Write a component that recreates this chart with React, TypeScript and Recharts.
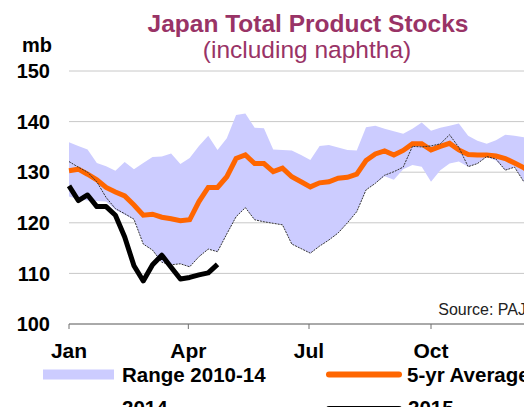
import {
  Area,
  CartesianGrid,
  ComposedChart,
  Line,
  XAxis,
  YAxis,
} from "recharts";

// weekly points, x is day of year (week * 7)
const MONTH_TICKS = [0, 90, 181, 273];
const MONTH_LABELS = ["Jan", "Apr", "Jul", "Oct"];
const Y_TICKS = [100, 110, 120, 130, 140, 150];

const RANGE_HIGH = [
  135.9, 135.2, 134.5, 131.8, 131.2, 130.3, 132.0, 130.6, 131.8, 133.0,
  133.1, 133.7, 131.6, 132.8, 135.2, 137.2, 134.4, 136.7, 141.3, 141.6,
  138.8, 138.7, 134.5, 134.4, 134.3, 133.4, 132.4, 135.2, 135.4, 134.9,
  134.4, 134.3, 138.9, 139.2, 138.6, 138.1, 137.6, 138.6, 139.8, 138.2,
  138.8, 139.2, 139.6, 137.2, 136.2, 135.6, 136.3, 137.4, 137.2, 136.9,
  136.0, 135.3,
];

const RANGE_LOW = [
  125.2, 124.7, 124.4, 124.3, 124.2, 122.6, 121.6, 120.7, 115.8, 114.6,
  112.2, 111.7, 111.9, 111.3, 113.3, 114.8, 114.3, 117.8, 121.2, 123.0,
  120.6, 120.2, 119.9, 119.6, 115.8, 114.9, 114.0, 115.4, 116.6, 118.0,
  120.0, 122.2, 126.5, 127.8, 129.2, 128.5, 130.6, 131.4, 131.1, 128.1,
  130.4, 131.7, 132.1, 131.1, 131.7, 133.0, 132.3, 130.4, 131.0, 128.1,
  126.1, 124.5,
];

const AVG_5YR = [
  130.3, 130.6, 129.6, 128.5, 127.0, 126.1, 125.3, 123.5, 121.5, 121.7,
  121.1, 120.8, 120.4, 120.6, 124.2, 127.0, 127.0, 129.1, 132.7, 133.4,
  131.7, 131.7, 130.1, 130.8, 129.1, 128.1, 127.1, 127.9, 128.1, 128.8,
  129.0, 129.6, 132.3, 133.6, 134.2, 133.4, 134.3, 135.6, 135.6, 134.4,
  135.1, 135.7, 134.4, 133.5, 133.4, 133.4, 133.2, 132.7, 131.8, 130.9,
  129.4, 128.0,
];

const Y2014 = [
  132.1, 131.0, 130.0, 128.1, 125.0, 122.8, 121.8, 120.7, 115.8, 114.6,
  112.2, 111.7, 111.9, 111.3, 113.3, 114.8, 114.3, 117.8, 121.2, 123.0,
  120.6, 120.2, 119.9, 119.6, 115.8, 114.9, 114.0, 115.4, 116.6, 118.0,
  120.0, 122.2, 126.5, 127.8, 129.4, 130.1, 131.0, 135.1, 135.0, 135.2,
  135.6, 137.4, 134.9, 131.1, 131.7, 133.1, 132.6, 130.4, 131.0, 128.1,
  126.1, 124.5,
];

const Y2015 = [
  127.3, 124.4, 125.5, 123.2, 123.2, 121.5, 117.2, 111.5, 108.5, 111.7,
  113.6, 111.2, 108.9, 109.2, 109.7, 110.1, 111.8,
];

const data = RANGE_HIGH.map((hi, i) => ({
  day: i * 7,
  range: [RANGE_LOW[i], hi],
  avg: AVG_5YR[i],
  y2014: Y2014[i],
  y2015: i < Y2015.length ? Y2015[i] : null,
}));

const FONT = '"Liberation Sans", Arial, sans-serif';
const TITLE_COLOR = "#993366";

export default function App() {
  return (
    <div
      style={{
        position: "relative",
        width: 532,
        height: 415,
        margin: -8,
        overflow: "hidden",
        background: "#fff",
        fontFamily: FONT,
      }}
    >
      <ComposedChart
        width={580}
        height={415}
        data={data}
        margin={{ top: 71, right: 27, bottom: 51, left: 0 }}
      >
        <CartesianGrid vertical={false} stroke="#c8c8c8" />
        <XAxis
          type="number"
          dataKey="day"
          domain={[0, 365]}
          ticks={MONTH_TICKS}
          interval={0}
          tickFormatter={(v) => MONTH_LABELS[MONTH_TICKS.indexOf(v)] ?? ""}
          stroke="#707070"
          tickSize={5}
          tickMargin={14}
          height={40}
          tick={{ fill: "#000", fontSize: 21, fontWeight: 700, fontFamily: FONT }}
        />
        <YAxis
          domain={[100, 150]}
          ticks={Y_TICKS}
          interval={0}
          width={69}
          axisLine={false}
          tickLine={false}
          tickSize={0}
          tickMargin={19}
          tick={{ fill: "#000", fontSize: 20, fontWeight: 700, fontFamily: FONT }}
        />
        <Area
          type="linear"
          dataKey="range"
          stroke="none"
          fill="#ccccff"
          fillOpacity={1}
          isAnimationActive={false}
        />
        <Line
          type="linear"
          dataKey="avg"
          stroke="#ff6600"
          strokeWidth={5}
          dot={false}
          isAnimationActive={false}
        />
        <Line
          type="linear"
          dataKey="y2014"
          stroke="#333"
          strokeWidth={1}
          strokeDasharray="2 1"
          dot={false}
          isAnimationActive={false}
        />
        <Line
          type="linear"
          dataKey="y2015"
          stroke="#000"
          strokeWidth={5}
          strokeLinejoin="round"
          dot={false}
          isAnimationActive={false}
        />
      </ComposedChart>

      <svg
        width={532}
        height={415}
        style={{ position: "absolute", left: 0, top: 0, pointerEvents: "none" }}
        fontFamily={FONT}
      >
        <text x={308} y={32} textAnchor="middle" fontSize={24.5} fontWeight={700} fill={TITLE_COLOR}>
          Japan Total Product Stocks
        </text>
        <text x={307} y={57.5} textAnchor="middle" fontSize={24.5} fill={TITLE_COLOR}>
          (including naphtha)
        </text>
        <text x={52} y={52} textAnchor="end" fontSize={20} fontWeight={700} fill="#000">
          mb
        </text>
        <text x={526} y={315} textAnchor="end" fontSize={16} fill="#222">
          Source: PAJ
        </text>

        <rect x={43} y={369.5} width={71} height={10} fill="#ccccff" />
        <text x={122} y={382} fontSize={20.5} fontWeight={700} fill="#000">
          Range 2010-14
        </text>
        <line x1={329} y1={374.5} x2={399} y2={374.5} stroke="#ff6600" strokeWidth={6} strokeLinecap="round" />
        <text x={407} y={382} fontSize={20.5} fontWeight={700} fill="#000">
          5-yr Average
        </text>

        <line x1={43} y1={409.5} x2={114} y2={409.5} stroke="#333" strokeWidth={1} strokeDasharray="5 2" />
        <text x={122} y={414.5} fontSize={20.5} fontWeight={700} fill="#000">
          2014
        </text>
        <line x1={329} y1={409} x2={399} y2={409} stroke="#000" strokeWidth={6} strokeLinecap="round" />
        <text x={408} y={414.5} fontSize={20.5} fontWeight={700} fill="#000">
          2015
        </text>
      </svg>
    </div>
  );
}
